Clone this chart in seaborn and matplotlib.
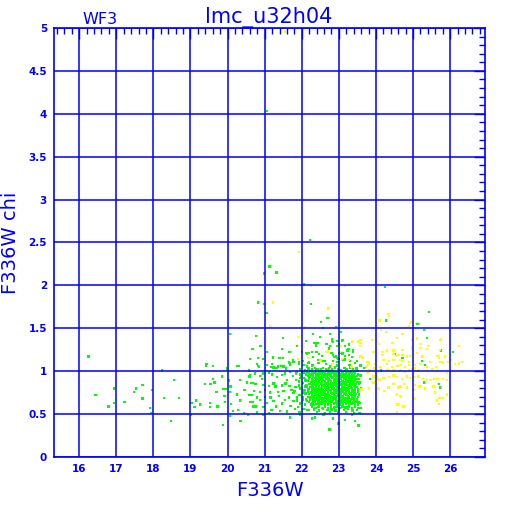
import numpy as np
import pandas as pd
import matplotlib
matplotlib.use('Agg')
import matplotlib.pyplot as plt
import seaborn as sns
from matplotlib.ticker import MultipleLocator

# F336W magnitude vs chi (estimated)
# faint/isolated green points outside the main clump
green_sparse = [
    (16.25, 1.17), (16.44, 0.72), (16.79, 0.59), (16.94, 0.63), (16.95, 0.80), (17.22, 0.64),
    (17.48, 0.76), (17.53, 0.80), (17.71, 0.84), (17.71, 0.68), (17.91, 0.57), (17.93, 0.51),
    (17.96, 0.78), (18.23, 1.01), (18.28, 0.69), (18.47, 0.42), (18.55, 0.90), (18.69, 0.69),
    (19.03, 0.63), (19.01, 0.49), (19.15, 0.66), (19.11, 0.58), (19.25, 0.61), (19.42, 1.06),
    (19.43, 1.08), (19.60, 1.06), (19.40, 0.85), (19.54, 0.85), (19.65, 0.87), (19.52, 0.63),
    (19.53, 0.58), (19.60, 0.91), (19.70, 0.76), (19.73, 0.59), (19.87, 0.37), (19.85, 0.94),
    (19.89, 0.79), (19.92, 0.71), (19.93, 0.64), (20.07, 1.43), (20.00, 1.03), (20.03, 0.89),
    (19.96, 0.79), (20.07, 0.76), (20.08, 0.82), (20.10, 0.62), (20.07, 0.48), (20.15, 0.54),
    (20.26, 1.06), (20.29, 1.06), (20.34, 0.90), (20.25, 0.73), (20.34, 0.66), (20.28, 0.55),
    (20.35, 0.42), (20.44, 0.51), (20.46, 0.78), (20.52, 0.87), (20.57, 1.01), (20.59, 0.72),
    (20.68, 1.26), (20.68, 0.86), (20.62, 0.64), (20.69, 0.59), (20.55, 0.49), (20.59, 0.94),
]

green_high = [
    (21.06, 4.03), (22.22, 2.53), (21.13, 2.22), (20.99, 2.14), (21.32, 2.15), (22.06, 2.01),
    (24.24, 1.98), (20.82, 1.80), (20.98, 1.78), (21.05, 1.68), (22.24, 1.78), (22.69, 1.62),
    (22.51, 1.57), (22.92, 1.51), (22.57, 1.50), (23.05, 1.46), (25.43, 1.69), (24.27, 1.59),
    (25.12, 1.55), (25.30, 1.48), (25.37, 1.39), (20.77, 1.41), (21.49, 1.39), (22.30, 1.43),
    (22.49, 1.40), (22.76, 1.43), (22.82, 1.37), (23.11, 1.36), (22.96, 1.35), (23.00, 1.32),
    (22.12, 1.35), (22.37, 1.33), (22.39, 1.30), (22.67, 1.32), (22.76, 1.29), (22.85, 1.34),
    (23.16, 1.29), (23.23, 1.24), (23.27, 1.31), (20.89, 1.29), (20.66, 1.26), (21.07, 1.22),
    (21.47, 1.26), (21.67, 1.22), (21.88, 1.29), (22.01, 1.22), (22.13, 1.21), (22.20, 1.21),
    (22.28, 1.22), (22.40, 1.22), (22.46, 1.20), (22.80, 1.21), (22.85, 1.19), (22.93, 1.17),
    (22.96, 1.15), (23.16, 1.18), (23.27, 1.19), (23.39, 1.22), (20.60, 1.14), (20.82, 1.15),
    (20.96, 1.14), (21.23, 1.16), (21.40, 1.15), (21.50, 1.15), (21.65, 1.11), (21.68, 1.07),
    (21.77, 1.13), (21.93, 1.08), (22.04, 1.12), (22.19, 1.10), (22.31, 1.07), (22.44, 1.13),
    (22.57, 1.12), (22.66, 1.08), (22.84, 1.12), (22.96, 1.11), (23.12, 1.13), (23.30, 1.12),
    (23.48, 1.12), (20.79, 1.08), (20.84, 1.05), (21.18, 1.05), (21.32, 1.04), (21.45, 1.06),
    (21.58, 1.03), (22.34, 1.325), (22.43, 1.33), (22.81, 1.35), (22.95, 1.294), (23.08, 1.356),
    (22.65, 1.224), (22.74, 1.263), (22.14, 1.208), (22.30, 1.169), (22.54, 1.177), (22.88, 1.169),
    (22.99, 1.146), (23.17, 1.138), (23.35, 1.169), (23.44, 1.092), (23.10, 1.208), (23.26, 1.255),
    (22.45, 1.092), (22.63, 1.115), (22.77, 1.053), (22.27, 1.068), (22.18, 1.03), (22.95, 1.068),
    (23.15, 1.037), (23.29, 1.076), (23.49, 1.03), (23.58, 1.068), (23.67, 1.037), (23.02, 1.216),
    (23.38, 1.24),
]

# green points scattered among the yellow ones and around the clump edge
green_faint = [
    (25.76, 1.24), (26.07, 1.22), (24.51, 1.20), (24.72, 1.15), (25.32, 1.07), (25.24, 1.12),
    (24.13, 1.01), (25.14, 1.00), (23.84, 0.91), (25.30, 0.87), (25.73, 0.81), (25.70, 0.85),
    (24.76, 0.58), (23.53, 0.37), (23.58, 0.95), (23.57, 0.87), (23.59, 0.80), (23.56, 0.63),
    (23.58, 0.57), (23.56, 0.51), (22.36, 0.462), (22.59, 0.486), (22.84, 0.447), (23.17, 0.431),
    (23.44, 0.416), (22.99, 0.392), (22.75, 0.322), (23.53, 0.369), (23.35, 0.486), (22.18, 0.548),
    (22.27, 0.447),
]

# moderately dense region 20.6 - 22.2
green_mid = [
    (20.82, 1.064), (21.06, 1.076), (21.24, 1.045), (21.36, 1.053), (21.51, 1.053), (21.67, 1.092),
    (21.78, 1.11), (21.93, 1.11), (22.05, 1.072), (22.14, 1.053), (22.18, 1.092), (21.20, 1.084),
    (20.61, 0.956), (20.73, 0.975), (20.87, 0.944), (20.97, 0.975), (21.11, 0.983), (21.20, 0.96),
    (21.33, 0.936), (21.47, 0.952), (21.54, 0.975), (21.69, 0.991), (21.76, 0.944), (21.85, 0.975),
    (21.96, 0.96), (22.05, 0.983), (22.12, 0.952), (22.19, 0.975), (21.96, 0.917), (22.08, 0.913),
    (22.19, 0.917), (20.93, 0.913), (21.60, 0.897), (20.64, 0.866), (20.75, 0.851), (20.97, 0.843),
    (21.00, 0.781), (21.11, 0.827), (21.24, 0.858), (21.29, 0.82), (21.36, 0.758), (21.47, 0.835),
    (21.51, 0.773), (21.56, 0.858), (21.67, 0.827), (21.72, 0.781), (21.83, 0.812), (21.92, 0.835),
    (22.01, 0.789), (22.10, 0.82), (22.17, 0.796), (22.23, 0.851), (21.145, 0.75), (20.875, 0.758),
    (20.71, 0.773), (21.775, 0.742), (22.045, 0.75), (20.66, 0.719), (20.785, 0.695), (20.68, 0.641),
    (20.875, 0.664), (21.00, 0.703), (21.07, 0.633), (21.16, 0.695), (21.235, 0.656), (21.31, 0.587),
    (21.38, 0.711), (21.47, 0.625), (21.54, 0.664), (21.65, 0.695), (21.70, 0.594), (21.775, 0.649),
    (21.865, 0.695), (21.955, 0.625), (22.03, 0.672), (22.135, 0.649), (22.207, 0.703), (20.75, 0.587),
    (20.965, 0.579), (21.18, 0.548), (21.415, 0.54), (21.595, 0.532), (21.81, 0.563), (21.937, 0.517),
    (22.135, 0.548), (20.785, 0.517), (21.11, 0.509), (21.685, 0.462), (21.955, 0.493), (20.965, 0.493),
    (21.95, 1.02), (22.02, 0.99), (22.08, 1.01), (21.98, 0.94), (22.06, 0.92), (22.11, 0.96),
    (21.92, 0.88), (22.04, 0.86), (22.10, 0.89), (21.97, 0.80), (22.07, 0.78), (22.12, 0.84),
    (21.94, 0.72), (22.03, 0.70), (22.10, 0.74), (22.00, 0.64), (22.08, 0.61), (22.12, 0.67),
    (21.90, 0.58), (22.05, 0.56), (21.84, 0.90), (21.88, 0.66), (21.80, 0.77), (21.86, 0.99),
]

# the very dense clump 22.15 - 23.55
green_core = [
    (22.18, 1.036), (22.27, 1.021), (22.35, 1.040), (22.42, 1.027), (22.51, 1.018), (22.58, 1.041),
    (22.66, 1.024), (22.74, 1.033), (22.82, 1.019), (22.89, 1.044), (22.97, 1.028), (23.06, 1.015),
    (23.13, 1.038), (23.21, 1.025), (23.30, 1.042), (23.38, 1.020), (23.47, 1.031),
    (22.15, 0.998), (22.22, 1.006), (22.31, 0.992), (22.38, 1.009), (22.46, 0.995), (22.53, 1.004),
    (22.61, 0.988), (22.69, 1.007), (22.77, 0.996), (22.85, 1.003), (22.93, 0.990), (23.01, 1.008),
    (23.09, 0.994), (23.17, 1.002), (23.25, 0.989), (23.33, 1.006), (23.41, 0.997), (23.50, 1.004),
    (22.19, 0.972), (22.26, 0.961), (22.34, 0.978), (22.42, 0.966), (22.49, 0.975), (22.57, 0.959),
    (22.64, 0.971), (22.72, 0.964), (22.80, 0.979), (22.88, 0.962), (22.96, 0.974), (23.04, 0.967),
    (23.12, 0.976), (23.20, 0.960), (23.28, 0.973), (23.36, 0.965), (23.44, 0.977), (23.52, 0.963),
    (22.16, 0.941), (22.23, 0.932), (22.30, 0.946), (22.38, 0.935), (22.45, 0.944), (22.53, 0.930),
    (22.60, 0.943), (22.68, 0.936), (22.76, 0.948), (22.84, 0.931), (22.91, 0.942), (22.99, 0.937),
    (23.07, 0.947), (23.15, 0.933), (23.23, 0.944), (23.31, 0.938), (23.39, 0.929), (23.48, 0.945),
    (22.20, 0.912), (22.28, 0.903), (22.35, 0.917), (22.43, 0.906), (22.50, 0.915), (22.58, 0.901),
    (22.65, 0.913), (22.73, 0.905), (22.81, 0.918), (22.89, 0.902), (22.97, 0.911), (23.05, 0.907),
    (23.13, 0.916), (23.21, 0.900), (23.29, 0.914), (23.37, 0.904), (23.45, 0.912), (23.53, 0.908),
    (22.17, 0.883), (22.24, 0.872), (22.32, 0.886), (22.40, 0.875), (22.47, 0.884), (22.55, 0.871),
    (22.62, 0.887), (22.70, 0.876), (22.78, 0.882), (22.86, 0.873), (22.94, 0.888), (23.02, 0.877),
    (23.10, 0.885), (23.18, 0.870), (23.26, 0.881), (23.34, 0.874), (23.42, 0.886), (23.50, 0.878),
    (22.21, 0.852), (22.29, 0.843), (22.36, 0.857), (22.44, 0.846), (22.52, 0.855), (22.59, 0.841),
    (22.67, 0.853), (22.75, 0.845), (22.83, 0.858), (22.91, 0.842), (22.99, 0.851), (23.07, 0.847),
    (23.15, 0.856), (23.23, 0.840), (23.31, 0.854), (23.39, 0.844), (23.47, 0.852), (23.54, 0.848),
    (22.15, 0.823), (22.23, 0.812), (22.31, 0.826), (22.39, 0.815), (22.46, 0.824), (22.54, 0.811),
    (22.61, 0.827), (22.69, 0.816), (22.77, 0.822), (22.85, 0.813), (22.93, 0.828), (23.01, 0.817),
    (23.09, 0.825), (23.17, 0.810), (23.25, 0.821), (23.33, 0.814), (23.41, 0.826), (23.49, 0.818),
    (22.19, 0.792), (22.27, 0.783), (22.34, 0.797), (22.42, 0.786), (22.50, 0.795), (22.57, 0.781),
    (22.65, 0.793), (22.73, 0.785), (22.81, 0.798), (22.88, 0.782), (22.96, 0.791), (23.04, 0.787),
    (23.12, 0.796), (23.20, 0.780), (23.28, 0.794), (23.36, 0.784), (23.44, 0.792), (23.52, 0.788),
    (22.16, 0.763), (22.24, 0.752), (22.32, 0.766), (22.40, 0.755), (22.48, 0.764), (22.55, 0.751),
    (22.63, 0.767), (22.71, 0.756), (22.79, 0.762), (22.87, 0.753), (22.95, 0.768), (23.03, 0.757),
    (23.11, 0.765), (23.19, 0.750), (23.27, 0.761), (23.35, 0.754), (23.43, 0.766), (23.51, 0.758),
    (22.20, 0.732), (22.28, 0.723), (22.36, 0.737), (22.43, 0.726), (22.51, 0.735), (22.59, 0.721),
    (22.66, 0.733), (22.74, 0.725), (22.82, 0.738), (22.90, 0.722), (22.98, 0.731), (23.06, 0.727),
    (23.14, 0.736), (23.22, 0.720), (23.30, 0.734), (23.38, 0.724), (23.46, 0.732), (23.54, 0.728),
    (22.17, 0.703), (22.25, 0.692), (22.33, 0.706), (22.41, 0.695), (22.48, 0.704), (22.56, 0.691),
    (22.64, 0.707), (22.72, 0.696), (22.80, 0.702), (22.88, 0.693), (22.96, 0.708), (23.04, 0.697),
    (23.12, 0.705), (23.20, 0.690), (23.28, 0.701), (23.36, 0.694), (23.44, 0.706), (23.52, 0.698),
    (22.22, 0.672), (22.30, 0.663), (22.37, 0.677), (22.45, 0.666), (22.53, 0.675), (22.60, 0.661),
    (22.68, 0.673), (22.76, 0.665), (22.84, 0.678), (22.92, 0.662), (23.00, 0.671), (23.08, 0.667),
    (23.16, 0.676), (23.24, 0.660), (23.32, 0.674), (23.40, 0.664), (23.48, 0.672),
    (22.19, 0.643), (22.27, 0.632), (22.35, 0.646), (22.43, 0.635), (22.50, 0.644), (22.58, 0.631),
    (22.66, 0.647), (22.74, 0.636), (22.82, 0.642), (22.90, 0.633), (22.98, 0.648), (23.06, 0.637),
    (23.14, 0.645), (23.22, 0.630), (23.30, 0.641), (23.38, 0.634), (23.46, 0.646), (23.53, 0.638),
    (22.24, 0.612), (22.32, 0.603), (22.40, 0.617), (22.47, 0.606), (22.55, 0.615), (22.63, 0.601),
    (22.71, 0.613), (22.79, 0.605), (22.87, 0.618), (22.95, 0.602), (23.03, 0.611), (23.11, 0.607),
    (23.19, 0.616), (23.27, 0.600), (23.35, 0.614), (23.43, 0.604), (23.51, 0.612),
    (22.28, 0.583), (22.37, 0.572), (22.45, 0.586), (22.54, 0.575), (22.62, 0.584), (22.70, 0.571),
    (22.78, 0.587), (22.86, 0.576), (22.94, 0.582), (23.02, 0.573), (23.10, 0.588), (23.18, 0.577),
    (23.26, 0.585), (23.35, 0.570), (23.44, 0.581), (23.52, 0.574),
    (22.33, 0.552), (22.47, 0.543), (22.58, 0.557), (22.69, 0.546), (22.80, 0.555), (22.91, 0.541),
    (23.00, 0.553), (23.13, 0.545), (23.24, 0.558), (23.37, 0.542), (23.48, 0.551),
    (22.41, 0.522), (22.63, 0.514), (22.77, 0.526), (22.98, 0.517), (23.20, 0.524), (23.41, 0.513),
    # second, offset layer in the densest part
    (22.29, 0.989), (22.38, 0.981), (22.47, 0.993), (22.53, 0.984), (22.62, 0.990), (22.71, 0.979),
    (22.77, 0.992), (22.86, 0.983), (22.95, 0.988), (23.01, 0.980), (23.10, 0.994), (23.19, 0.985),
    (23.25, 0.991), (23.34, 0.982), (23.43, 0.987),
    (22.31, 0.953), (22.39, 0.962), (22.46, 0.950), (22.55, 0.959), (22.63, 0.948), (22.69, 0.961),
    (22.78, 0.954), (22.87, 0.963), (22.93, 0.951), (23.02, 0.958), (23.11, 0.949), (23.17, 0.960),
    (23.26, 0.952), (23.35, 0.961), (23.41, 0.955),
    (22.30, 0.929), (22.37, 0.921), (22.46, 0.933), (22.54, 0.924), (22.61, 0.930), (22.70, 0.919),
    (22.79, 0.932), (22.85, 0.923), (22.94, 0.928), (23.03, 0.920), (23.09, 0.934), (23.18, 0.925),
    (23.27, 0.931), (23.33, 0.922), (23.42, 0.927),
    (22.29, 0.893), (22.38, 0.902), (22.47, 0.890), (22.53, 0.899), (22.62, 0.888), (22.71, 0.901),
    (22.77, 0.894), (22.86, 0.903), (22.95, 0.891), (23.01, 0.898), (23.10, 0.889), (23.19, 0.900),
    (23.25, 0.892), (23.34, 0.901), (23.43, 0.895),
    (22.31, 0.869), (22.39, 0.861), (22.46, 0.873), (22.55, 0.864), (22.63, 0.870), (22.69, 0.859),
    (22.78, 0.872), (22.87, 0.863), (22.93, 0.868), (23.02, 0.860), (23.11, 0.874), (23.17, 0.865),
    (23.26, 0.871), (23.35, 0.862), (23.41, 0.867),
    (22.30, 0.833), (22.37, 0.842), (22.46, 0.830), (22.54, 0.839), (22.61, 0.828), (22.70, 0.841),
    (22.79, 0.834), (22.85, 0.843), (22.94, 0.831), (23.03, 0.838), (23.09, 0.829), (23.18, 0.840),
    (23.27, 0.832), (23.33, 0.841), (23.42, 0.835),
    (22.29, 0.809), (22.38, 0.801), (22.47, 0.813), (22.53, 0.804), (22.62, 0.810), (22.71, 0.799),
    (22.77, 0.812), (22.86, 0.803), (22.95, 0.808), (23.01, 0.800), (23.10, 0.814), (23.19, 0.805),
    (23.25, 0.811), (23.34, 0.802), (23.43, 0.807),
    (22.31, 0.773), (22.39, 0.782), (22.46, 0.770), (22.55, 0.779), (22.63, 0.768), (22.69, 0.781),
    (22.78, 0.774), (22.87, 0.783), (22.93, 0.771), (23.02, 0.778), (23.11, 0.769), (23.17, 0.780),
    (23.26, 0.772), (23.35, 0.781), (23.41, 0.775),
    (22.30, 0.749), (22.37, 0.741), (22.46, 0.753), (22.54, 0.744), (22.61, 0.750), (22.70, 0.739),
    (22.79, 0.752), (22.85, 0.743), (22.94, 0.748), (23.03, 0.740), (23.09, 0.754), (23.18, 0.745),
    (23.27, 0.751), (23.33, 0.742), (23.42, 0.747),
    (22.29, 0.713), (22.38, 0.722), (22.47, 0.710), (22.53, 0.719), (22.62, 0.708), (22.71, 0.721),
    (22.77, 0.714), (22.86, 0.723), (22.95, 0.711), (23.01, 0.718), (23.10, 0.709), (23.19, 0.720),
    (23.25, 0.712), (23.34, 0.721), (23.43, 0.715),
    (22.31, 0.689), (22.39, 0.681), (22.46, 0.693), (22.55, 0.684), (22.63, 0.690), (22.69, 0.679),
    (22.78, 0.692), (22.87, 0.683), (22.93, 0.688), (23.02, 0.680), (23.11, 0.694), (23.17, 0.685),
    (23.26, 0.691), (23.35, 0.682), (23.41, 0.687),
    (22.30, 0.653), (22.37, 0.662), (22.46, 0.650), (22.54, 0.659), (22.61, 0.648), (22.70, 0.661),
    (22.79, 0.654), (22.85, 0.663), (22.94, 0.651), (23.03, 0.658), (23.09, 0.649), (23.18, 0.660),
    (23.27, 0.652), (23.33, 0.661), (23.42, 0.655),
    (22.29, 0.629), (22.38, 0.621), (22.47, 0.633), (22.53, 0.624), (22.62, 0.630), (22.71, 0.619),
    (22.77, 0.632), (22.86, 0.623), (22.95, 0.628), (23.01, 0.620), (23.10, 0.634), (23.19, 0.625),
    (23.25, 0.631), (23.34, 0.622), (23.43, 0.627),
]

yellow_pts = [
    (21.55, 4.96), (21.93, 2.39), (22.24, 2.00), (23.16, 2.00), (21.22, 1.80), (22.71, 1.73),
    (24.33, 1.67), (24.35, 1.64), (24.10, 1.59), (24.96, 1.57), (24.89, 1.53), (24.13, 1.48),
    (24.28, 1.46), (24.72, 1.43), (24.56, 1.39), (25.10, 1.38), (25.75, 1.37), (21.15, 1.52),
    (22.08, 1.51), (21.90, 1.40), (24.92, 1.56), (24.94, 1.57), (24.98, 1.36), (25.73, 1.36),
    (23.90, 1.36), (23.57, 1.36), (24.08, 1.32), (24.43, 1.33), (25.19, 1.32), (25.41, 1.29),
    (26.23, 1.29), (23.57, 1.29), (24.97, 1.28), (24.97, 1.26), (24.71, 1.25), (24.29, 1.24),
    (24.47, 1.24), (25.19, 1.27), (25.73, 1.25), (25.37, 1.26), (23.93, 1.22), (24.16, 1.22),
    (24.16, 1.19), (24.47, 1.20), (24.54, 1.18), (24.63, 1.19), (24.72, 1.19), (24.92, 1.18),
    (24.83, 1.17), (23.57, 1.17), (23.65, 1.15), (25.10, 1.21), (25.24, 1.17), (25.66, 1.18),
    (25.70, 1.15), (25.87, 1.17), (24.20, 1.13), (24.36, 1.12), (24.47, 1.13), (24.65, 1.13),
    (24.72, 1.12), (24.90, 1.11), (24.99, 1.12), (25.46, 1.11), (25.73, 1.11), (25.80, 1.10),
    (25.96, 1.11), (26.02, 1.13), (26.14, 1.08), (26.23, 1.09), (26.32, 1.11), (23.81, 1.10),
    (23.73, 1.05), (23.98, 1.08), (24.11, 1.05), (24.29, 1.08), (24.43, 1.05), (24.58, 1.06),
    (24.67, 1.07), (24.79, 1.05), (24.90, 1.07), (25.06, 1.07), (25.19, 1.08), (25.37, 1.05),
    (25.62, 1.05), (23.84, 1.01), (23.95, 1.03), (24.31, 1.01), (24.47, 1.01), (24.65, 1.01),
    (24.78, 0.99), (24.90, 1.01), (24.97, 1.02), (25.06, 1.03), (25.16, 1.01), (25.37, 1.01),
    (25.51, 1.02), (25.64, 1.01), (25.91, 0.98), (23.77, 0.98), (23.93, 0.94), (24.04, 0.91),
    (24.11, 0.90), (24.20, 0.92), (24.36, 0.93), (24.47, 0.95), (24.56, 0.93), (24.71, 0.91),
    (24.83, 0.94), (24.92, 0.92), (25.01, 0.93), (25.14, 0.94), (25.26, 0.91), (25.37, 0.90),
    (25.46, 0.90), (25.57, 0.91), (25.66, 0.91), (25.80, 0.91), (25.91, 0.90), (23.93, 0.87),
    (24.07, 0.80), (24.21, 0.77), (24.34, 0.81), (24.47, 0.85), (24.61, 0.81), (24.65, 0.82),
    (24.76, 0.85), (24.83, 0.81), (25.01, 0.78), (25.05, 0.84), (25.17, 0.82), (25.32, 0.80),
    (25.55, 0.82), (25.59, 0.75), (25.71, 0.69), (25.64, 0.66), (25.70, 0.62), (25.91, 0.73),
    (25.80, 0.69), (24.56, 0.73), (24.65, 0.71), (25.01, 0.68), (24.58, 0.61), (24.56, 0.52),
    (24.74, 0.59), (24.68, 0.70), (22.16, 1.154), (22.52, 1.123), (22.66, 1.224), (23.02, 1.286),
    (23.35, 1.348), (23.53, 1.348), (23.58, 1.33), (23.63, 1.16), (23.76, 1.06), (23.80, 1.09),
    (22.83, 1.08), (23.01, 1.43), (23.36, 1.34), (23.59, 1.36), (22.70, 1.23), (23.03, 1.22),
    (23.09, 1.14), (23.27, 1.13), (21.90, 1.14), (23.77, 1.11), (23.34, 1.05), (23.81, 1.01),
    (23.81, 0.80), (23.65, 0.78), (23.61, 0.79), (24.08, 0.90), (24.03, 0.94), (22.91, 1.50),
    (22.35, 1.50),
]

x_major = np.arange(16, 27, 1)
y_major = np.arange(0, 5.01, 0.5)

green = green_sparse + green_mid + green_core + green_high + green_faint
df = pd.DataFrame(green + yellow_pts, columns=['F336W', 'F336W chi'])
df['flag'] = ['green'] * len(green) + ['yellow'] * len(yellow_pts)

blue = '#0000ff'
sns.set_style('white')
plt.rcParams['font.family'] = ['DejaVu Sans']

fig = plt.figure(figsize=(5.12, 5.12), dpi=100)
ax = fig.add_axes([54 / 512, 55 / 512, 431 / 512, 429 / 512])

sns.scatterplot(data=df, x='F336W', y='F336W chi', hue='flag',
                palette={'green': '#00ff00', 'yellow': '#ffff00'},
                marker='s', s=2.8, linewidth=0, antialiased=False,
                legend=False, ax=ax)

ax.set_xlim(15.32, 26.94)
ax.set_ylim(0, 5)
ax.set_xticks(x_major)
ax.set_yticks(y_major)
ax.set_xticklabels([str(v) for v in x_major])
ax.set_yticklabels(['0' if v == 0 else ('%g' % v) for v in y_major])
ax.xaxis.set_minor_locator(MultipleLocator(0.2))
ax.yaxis.set_minor_locator(MultipleLocator(0.1))
ax.tick_params(which='both', direction='in', color=blue, top=True, right=True,
               width=1)
ax.tick_params(which='major', length=8, labelsize=7.5, labelcolor=blue)
ax.tick_params(which='minor', length=4)
ax.tick_params(axis='x', pad=5)
ax.tick_params(axis='y', pad=5)
for lab in ax.get_xticklabels() + ax.get_yticklabels():
    lab.set_fontweight('bold')

ax.set_axisbelow(False)
ax.grid(True, which='major', color=blue, linewidth=1.1)
for sp in ax.spines.values():
    sp.set_color(blue)
    sp.set_linewidth(1.2)

ax.set_xlabel('F336W', fontsize=14, color=blue, va='center')
ax.xaxis.set_label_coords(0.5, -0.077)
ax.set_ylabel('F336W chi', fontsize=14, color=blue, va='center')
ax.yaxis.set_label_coords(-0.1, 0.5)

fig.text(269 / 512, 1 - 23 / 512, 'lmc_u32h04', fontsize=15, color=blue,
         ha='center', va='baseline')
fig.text(100 / 512, 1 - 24 / 512, 'WF3', fontsize=11.5, color=blue,
         ha='center', va='baseline')

fig.savefig('out.png', dpi=100, facecolor='white')
